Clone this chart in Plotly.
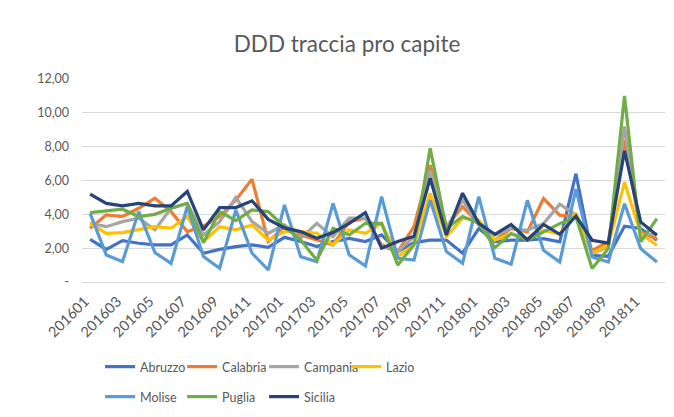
import plotly.graph_objects as go

months = [f"{y}{m:02d}" for y in (2016, 2017, 2018) for m in range(1, 13)]

abruzzo = [2.52, 1.93, 2.45, 2.29, 2.19, 2.19, 2.78, 1.70, 1.93, 2.09, 2.19, 2.05,
           2.64, 2.39, 2.09, 2.39, 2.58, 2.39, 2.78, 1.80, 2.33, 2.48, 2.48, 1.70,
           3.16, 2.39, 2.47, 2.47, 2.56, 2.37, 6.40, 1.58, 1.52, 3.30, 3.16, 2.47]
calabria = [3.18, 3.96, 3.87, 4.36, 4.95, 4.16, 2.98, 3.30, 3.87, 4.85, 6.07, 2.39,
            3.27, 2.78, 2.48, 2.20, 3.57, 3.77, 2.20, 1.80, 3.27, 6.90, 3.27, 4.46,
            3.47, 2.48, 3.16, 2.96, 4.93, 3.95, 3.85, 1.87, 2.37, 8.40, 2.96, 2.56]
campania = [3.47, 3.27, 3.57, 3.77, 3.08, 4.36, 4.65, 2.78, 3.57, 5.00, 3.57, 2.88,
            3.37, 2.58, 3.47, 2.68, 3.77, 3.77, 2.10, 1.80, 2.68, 6.60, 3.18, 4.85,
            3.37, 2.78, 3.16, 3.06, 3.45, 4.60, 3.95, 1.68, 2.07, 9.20, 2.76, 2.86]
lazio = [3.47, 2.88, 2.92, 3.08, 3.27, 3.18, 3.87, 2.39, 3.27, 3.08, 3.37, 2.48,
         2.98, 2.98, 2.88, 2.20, 3.08, 2.88, 3.47, 1.50, 2.20, 5.25, 2.68, 3.77,
         3.67, 2.48, 2.86, 2.56, 3.06, 2.82, 4.08, 1.68, 2.17, 5.90, 2.86, 2.17]
molise = [4.06, 1.60, 1.20, 4.16, 1.74, 1.10, 4.46, 1.50, 0.81, 4.26, 1.70, 0.71,
          4.56, 1.50, 1.20, 4.65, 1.60, 0.95, 5.05, 1.40, 1.30, 4.85, 1.80, 1.10,
          5.05, 1.40, 1.05, 4.83, 1.87, 1.18, 5.50, 1.48, 1.18, 4.63, 1.97, 1.18]
puglia = [4.10, 4.22, 4.30, 3.87, 4.00, 4.36, 4.65, 2.33, 4.16, 3.63, 4.26, 4.16,
          3.27, 2.48, 1.30, 3.18, 2.78, 3.47, 3.47, 1.00, 2.20, 7.90, 3.16, 3.87,
          3.47, 2.03, 2.86, 2.47, 2.96, 3.45, 3.85, 0.80, 1.97, 11.00, 2.37, 3.75]
sicilia = [5.19, 4.65, 4.50, 4.65, 4.50, 4.50, 5.35, 3.08, 4.40, 4.40, 4.80, 3.70,
           3.20, 2.98, 2.58, 2.92, 3.47, 4.10, 2.00, 2.40, 2.70, 6.13, 2.78, 5.25,
           3.47, 2.82, 3.40, 2.50, 3.40, 2.82, 3.90, 2.47, 2.30, 7.75, 3.55, 2.76]

series_names = ["Abruzzo", "Calabria", "Campania", "Lazio", "Molise", "Puglia", "Sicilia"]
series_values = [abruzzo, calabria, campania, lazio, molise, puglia, sicilia]
colors = ["#4472C4", "#ED7D31", "#A5A5A5", "#FFC000", "#5B9BD5", "#70AD47", "#264478"]

x_tick_labels = months[::2]
y_tick_values = [0, 2, 4, 6, 8, 10, 12]
y_tick_labels = ["-", "2,00", "4,00", "6,00", "8,00", "10,00", "12,00"]

FONT = "Lato, 'Open Sans', sans-serif"
TXT = "#595959"
PAD = "\u00a0" * 2  # nudges rotated tick labels down-left along their baseline

fig = go.Figure()
for i, (name, vals, col) in enumerate(zip(series_names, series_values, colors)):
    fig.add_trace(go.Scatter(
        x=months, y=vals, name=name, mode="lines",
        line=dict(color=col, width=3.2, shape="linear"),
        legend="legend" if i < 4 else "legend2",
    ))

legend_common = dict(
    orientation="h", xref="paper", yref="container", xanchor="left", yanchor="middle",
    font=dict(family=FONT, size=12.5, color=TXT), bgcolor="rgba(0,0,0,0)",
    entrywidth=37, entrywidthmode="pixels", itemwidth=30, tracegroupgap=0,
)

fig.update_layout(
    width=674, height=417,
    margin=dict(l=74, r=17, t=71, b=143, autoexpand=False),
    paper_bgcolor="white", plot_bgcolor="white",
    separators=",.",
    title=dict(text="DDD traccia pro capite", xref="container", yref="container",
               x=0.503, y=1 - 36 / 417, xanchor="center", yanchor="middle",
               font=dict(family=FONT, size=22.5, color=TXT)),
    showlegend=True,
    legend=dict(x=0.031, y=1 - 359 / 417, **legend_common),
    legend2=dict(x=0.031, y=1 - 389 / 417, **legend_common),
    xaxis=dict(type="category", range=[-0.5, 35.5], tickmode="array",
               tickvals=x_tick_labels, ticktext=[t + PAD for t in x_tick_labels],
               tickangle=-45,
               showgrid=False, showline=True, linecolor="#D9D9D9", linewidth=1,
               ticks="", automargin=False, ticklabelstandoff=-1,
               tickfont=dict(family=FONT, size=14.5, color=TXT)),
    yaxis=dict(range=[0, 12], tickmode="array", tickvals=y_tick_values,
               ticktext=y_tick_labels, showgrid=True, gridcolor="#D9D9D9",
               gridwidth=1, zeroline=False, showline=False, ticks="",
               automargin=False,
               tickfont=dict(family=FONT, size=12.5, color=TXT), ticklabelstandoff=12),
)

fig.write_html("out.html")
